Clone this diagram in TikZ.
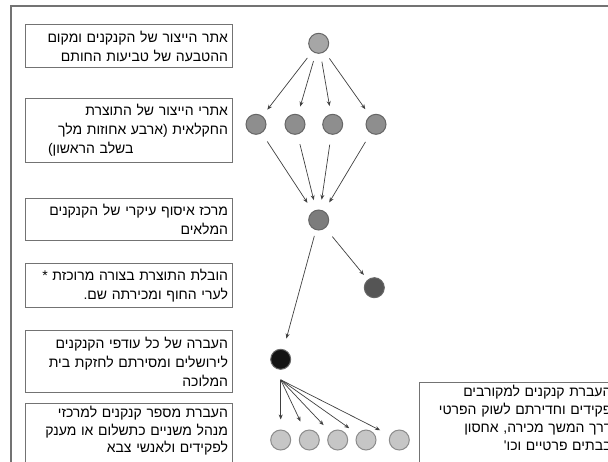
\documentclass[tikz,border=0pt]{standalone}
\usepackage{fontspec}
\setmainfont{Liberation Sans}
\newfontfamily\hebfont[Script=Hebrew]{Liberation Sans}
\TeXXeTstate=1
\usetikzlibrary{arrows.meta,positioning}
\newcommand{\rtl}[1]{\mbox{\beginR #1\endR}}

\begin{document}
\begin{tikzpicture}[x=1pt, y=-1pt, >={Stealth[length=5pt,width=4pt]},
  every node/.style={font=\hebfont\fontsize{14}{19}\selectfont},
  stage/.style={draw=black!55, line width=1pt, anchor=north east, text width=198pt,
    inner xsep=4.5pt, inner ysep=4pt, align=right},
  dot/.style={circle, draw=black!60, line width=1pt, minimum size=20pt, inner sep=0pt},
  flow/.style={->, draw=black!75, line width=0.7pt, shorten <=8pt, shorten >=8pt}]
  \clip (0,0) rectangle (608,461);
  \fill[white] (0,0) rectangle (608,461);
  \draw[black!55, line width=1.5pt] (11,6) rectangle (640,490);

  % stages, left column
  \node[stage, minimum height=43pt] (t1) at (233,24)
    {\rtl{אתר הייצור של הקנקנים ומקום}\\ \rtl{ההטבעה של טביעות החותם}};
  \node[stage, minimum height=64pt] (t2) at (233,98)
    {\rtl{אתרי הייצור של התוצרת}\\ \rtl{החקלאית (ארבע אחוזות מלך}\\
     \makebox[\linewidth][l]{\hspace{18pt}\rtl{בשלב הראשון)}}};
  \node[stage, minimum height=42pt] (t3) at (233,198)
    {\rtl{מרכז איסוף עיקרי של הקנקנים}\\ \rtl{המלאים}};
  \node[stage, minimum height=44pt] (t4) at (233,263)
    {\rtl{הובלת התוצרת בצורה מרוכזת *}\\ \rtl{לערי החוף ומכירתה שם.}};
  \node[stage, minimum height=62pt] (t5) at (233,330)
    {\rtl{העברה של כל עודפי הקנקנים}\\ \rtl{לירושלים ומסירתם לחזקת בית}\\ \rtl{המלוכה}};
  \node[stage, draw=none, inner ysep=3pt, font=\hebfont\fontsize{14}{17.5}\selectfont] (t6) at (233,403)
    {\rtl{העברת מספר קנקנים למרכזי}\\ \rtl{מנהל משניים כתשלום או מענק}\\ \rtl{לפקידים ולאנשי צבא}};
  \draw[black!55, line width=1pt] (t6.north west) rectangle ++(207,80);

  % private market, cut off at the right
  \node[stage, draw=none, anchor=north west, text width=187pt, inner xsep=5pt, inner ysep=3pt,
    font=\hebfont\fontsize{14}{18}\selectfont] (t7) at (419,382)
    {\rtl{העברת קנקנים למקורבים}\\ \rtl{פקידים וחדירתם לשוק הפרטי}\\ \rtl{דרך המשך מכירה, אחסון}\\ \rtl{בבתים פרטיים וכו'}};
  \draw[black!55, line width=1pt] (t7.north west) rectangle ++(220,100);

  % jars
  \node[dot, fill={rgb,255:red,166;green,166;blue,166}] (src) at (318.7,43.3) {};
  \node[dot, fill={rgb,255:red,142;green,142;blue,142}] (e1) at (256,124.3) {};
  \node[dot, fill={rgb,255:red,142;green,142;blue,142}] (e2) at (295,124.3) {};
  \node[dot, fill={rgb,255:red,142;green,142;blue,142}] (e3) at (332.7,124.3) {};
  \node[dot, fill={rgb,255:red,142;green,142;blue,142}] (e4) at (376,124.3) {};
  \node[dot, fill={rgb,255:red,124;green,124;blue,124}] (hub) at (318.7,220) {};
  \node[dot, fill={rgb,255:red,85;green,85;blue,85}] (coast) at (374.3,287.7) {};
  \node[dot, fill={rgb,255:red,20;green,20;blue,20}] (jer) at (280.7,359.3) {};
  \node[dot, draw=black!45, fill={rgb,255:red,198;green,198;blue,198}] (b1) at (280.7,440) {};
  \node[dot, draw=black!45, fill={rgb,255:red,198;green,198;blue,198}] (b2) at (309.3,440) {};
  \node[dot, draw=black!45, fill={rgb,255:red,198;green,198;blue,198}] (b3) at (337.7,440) {};
  \node[dot, draw=black!45, fill={rgb,255:red,198;green,198;blue,198}] (b4) at (366,440) {};
  \node[dot, draw=black!45, fill={rgb,255:red,198;green,198;blue,198}] (b5) at (399.3,440) {};
  \coordinate[below=10pt of jer] (fan);

  \draw[flow] (src) -- (e1);
  \draw[flow] (src) -- (e2);
  \draw[flow] (src) -- (e3);
  \draw[flow] (src) -- (e4);
  \draw[flow, shorten <=10pt, shorten >=10pt] (e1) -- (hub);
  \draw[flow, shorten <=10pt, shorten >=10pt] (e2) -- (hub);
  \draw[flow, shorten <=10pt, shorten >=10pt] (e3) -- (hub);
  \draw[flow, shorten <=10pt, shorten >=10pt] (e4) -- (hub);
  \draw[flow, shorten <=6pt, shorten >=11pt] (hub) -- (jer);
  \draw[flow, shorten <=11pt, shorten >=6pt] (hub) -- (coast);
  \draw[flow, shorten <=0pt, shorten >=10pt] (fan) -- (b1);
  \draw[flow, shorten <=0pt, shorten >=10pt] (fan) -- (b2);
  \draw[flow, shorten <=0pt, shorten >=10pt] (fan) -- (b3);
  \draw[flow, shorten <=0pt, shorten >=10pt] (fan) -- (b4);
  \draw[flow, shorten <=0pt, shorten >=11pt] (fan) -- (b5);
\end{tikzpicture}
\end{document}
